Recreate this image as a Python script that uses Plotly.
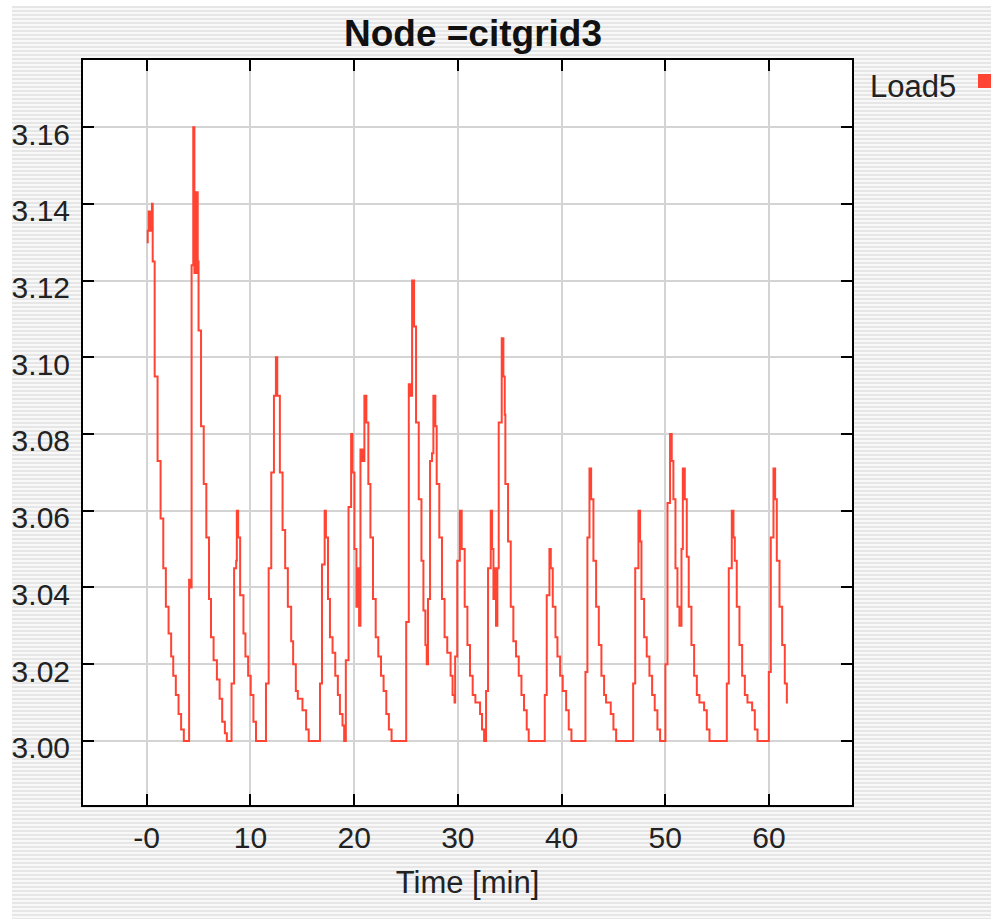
import plotly.graph_objects as go

# ---------------- data ----------------
TITLE = "Node =citgrid3"
SERIES_NAME = "Load5"
X_TITLE = "Time [min]"

time_min = [
    0.00, 0.10, 0.19, 0.38, 0.51, 0.58, 0.77, 1.05, 1.34, 1.60, 1.85, 2.11, 2.36, 2.56, 2.81, 3.07, 3.32, 3.58,
    4.09, 4.20, 4.33, 4.49, 4.60, 4.66, 4.75, 4.82, 4.92, 5.00, 5.24, 5.50, 5.75, 6.01, 6.20, 6.45, 6.77, 7.03,
    7.28, 7.54, 7.73,
    8.18, 8.43, 8.63, 8.69, 8.82, 9.01, 9.33, 9.52, 9.78, 10.03, 10.29, 10.54,
    11.50, 11.76, 12.01, 12.27, 12.46, 12.59, 12.84, 13.10, 13.35, 13.61, 13.93, 14.12, 14.38, 14.57, 15.02,
    15.37, 15.62,
    16.71, 16.90, 17.16, 17.28, 17.48, 17.67, 17.92, 18.18, 18.43, 18.63, 18.88, 19.04,
    19.20, 19.46, 19.71, 19.84, 20.03, 20.22, 20.35, 20.48, 20.61, 20.80, 20.99, 21.18, 21.37, 21.57, 21.82,
    22.08, 22.33, 22.59, 22.84, 23.10, 23.35, 23.61,
    25.02, 25.27, 25.46, 25.59, 25.78, 25.97, 26.23, 26.49, 26.68, 26.87, 27.00,
    27.12, 27.32, 27.51, 27.64, 27.83, 27.96, 28.21, 28.47, 28.72, 28.98, 29.30, 29.49, 29.68,
    29.74, 29.94, 30.19, 30.37, 30.66, 30.92, 31.17, 31.43, 31.69, 32.14, 32.33, 32.53,
    32.72, 32.91, 33.17, 33.30, 33.43, 33.55, 33.68, 33.81, 33.94, 34.23, 34.39, 34.52, 34.58, 34.84, 35.10,
    35.35, 35.61, 35.87, 36.13, 36.38, 36.64, 36.83,
    38.38, 38.57, 38.83, 38.96, 39.15, 39.41, 39.60, 39.86, 40.11, 40.44, 40.69, 40.95,
    42.30, 42.49, 42.69, 42.85, 43.07, 43.33, 43.59, 43.84, 44.10, 44.29, 44.74, 45.00, 45.26,
    46.90, 47.10, 47.41, 47.57, 47.70, 47.96, 48.21, 48.47, 48.73, 48.98, 49.24, 49.50,
    50.01, 50.21, 50.46, 50.62, 50.78, 50.98, 51.17, 51.36, 51.56, 51.69, 51.88, 52.07, 52.26, 52.52, 52.78,
    53.04, 53.29, 53.74, 54.00, 54.26,
    55.93, 56.12, 56.41, 56.57, 56.70, 56.89, 57.15, 57.41, 57.67, 57.92, 58.37, 58.63, 58.89,
    59.98, 60.17, 60.43, 60.59, 60.75, 61.01, 61.27, 61.52, 61.72, 61.82,
]

load5 = [
    3.130, 3.133, 3.138, 3.133, 3.140, 3.125, 3.095, 3.073, 3.058, 3.045, 3.035, 3.028, 3.022, 3.017, 3.012, 3.007, 3.003, 3.000,
    3.042, 3.040, 3.124, 3.160, 3.122, 3.143, 3.122, 3.143, 3.125, 3.107, 3.082, 3.067, 3.053, 3.037, 3.027, 3.021, 3.016, 3.011,
    3.005, 3.002, 3.000,
    3.015, 3.045, 3.047, 3.060, 3.053, 3.038, 3.028, 3.022, 3.017, 3.012, 3.005, 3.000,
    3.015, 3.045, 3.070, 3.090, 3.100, 3.090, 3.070, 3.055, 3.045, 3.035, 3.026, 3.020, 3.013, 3.011, 3.008,
    3.003, 3.000,
    3.015, 3.046, 3.060, 3.053, 3.037, 3.027, 3.023, 3.017, 3.012, 3.007, 3.004, 3.000,
    3.021, 3.061, 3.080, 3.070, 3.050, 3.035, 3.045, 3.030, 3.076, 3.073, 3.090, 3.083, 3.067, 3.053, 3.037,
    3.027, 3.022, 3.017, 3.013, 3.007, 3.003, 3.000,
    3.031, 3.093, 3.090, 3.120, 3.108, 3.083, 3.063, 3.047, 3.034, 3.025, 3.020,
    3.037, 3.073, 3.075, 3.090, 3.082, 3.067, 3.053, 3.037, 3.027, 3.023, 3.017, 3.012, 3.010,
    3.022, 3.047, 3.060, 3.050, 3.035, 3.025, 3.017, 3.012, 3.010, 3.007, 3.003, 3.000,
    3.013, 3.045, 3.060, 3.050, 3.037, 3.045, 3.030, 3.045, 3.083, 3.105, 3.095, 3.085, 3.067, 3.052, 3.035,
    3.026, 3.022, 3.017, 3.012, 3.008, 3.003, 3.000,
    3.012, 3.038, 3.050, 3.045, 3.035, 3.027, 3.022, 3.017, 3.013, 3.008, 3.003, 3.000,
    3.018, 3.053, 3.071, 3.063, 3.047, 3.035, 3.025, 3.017, 3.012, 3.010, 3.007, 3.003, 3.000,
    3.015, 3.045, 3.060, 3.052, 3.037, 3.027, 3.022, 3.017, 3.012, 3.008, 3.003, 3.000,
    3.020, 3.062, 3.080, 3.073, 3.063, 3.045, 3.035, 3.030, 3.050, 3.071, 3.063, 3.048, 3.035, 3.025, 3.017,
    3.012, 3.010, 3.008, 3.003, 3.000,
    3.015, 3.045, 3.060, 3.053, 3.047, 3.035, 3.025, 3.017, 3.012, 3.010, 3.008, 3.003, 3.000,
    3.018, 3.053, 3.071, 3.063, 3.047, 3.035, 3.025, 3.015, 3.010, 3.010,
]

x_tickvals = [0, 10, 20, 30, 40, 50, 60]
x_ticktext = ["-0", "10", "20", "30", "40", "50", "60"]
y_tickvals = [3.00, 3.02, 3.04, 3.06, 3.08, 3.10, 3.12, 3.14, 3.16]
y_ticktext = ["3.00", "3.02", "3.04", "3.06", "3.08", "3.10", "3.12", "3.14", "3.16"]

x_range = [-6.14, 68.0]
y_range = [2.9833, 3.1775]

# ---------------- style ----------------
W, H = 991, 919
ML, MR, MT, MB = 83, 139, 60, 114
PW, PH = W - ML - MR, H - MT - MB
FONT = "Liberation Sans, Arial, Helvetica, sans-serif"
RED = "#ff4433"
TXT = "#222222"


def px_x(px):
    return (px - ML) / PW


def px_y(py):
    return (H - MB - py) / PH


fig = go.Figure()
fig.add_trace(go.Scatter(
    x=time_min, y=load5, mode="lines", name=SERIES_NAME,
    line=dict(color=RED, width=2, shape="hv"), showlegend=False,
))
# empty trace so that the label axis (y2) is created
fig.add_trace(go.Scatter(x=[], y=[], yaxis="y2", showlegend=False, hoverinfo="skip"))

axis_common = dict(
    showline=True, linecolor="black", linewidth=2, mirror="ticks",
    ticks="inside", ticklen=11, tickwidth=2, tickcolor="black",
    showgrid=True, gridcolor="#d4d4d4", gridwidth=2, zeroline=False,
    tickfont=dict(family=FONT, size=30, color=TXT),
)

# pinstripe background
segs = []
for py in range(6, H, 4):
    y0, y1 = px_y(py), px_y(py + 2)
    xa, xb = px_x(0), px_x(W)
    segs.append(f"M{xa},{y0} L{xb},{y0} L{xb},{y1} L{xa},{y1} Z")
shapes = [
    dict(type="path", path=" ".join(segs), xref="paper", yref="paper",
         fillcolor="#e6e6e6", line=dict(width=0), layer="below"),
    dict(type="rect", xref="paper", yref="paper", x0=0, x1=1, y0=0, y1=1,
         fillcolor="white", line=dict(width=0), layer="below"),
    # white outer border (left and top)
    dict(type="rect", xref="paper", yref="paper", x0=px_x(0), x1=px_x(12), y0=px_y(H), y1=px_y(0),
         fillcolor="white", line=dict(width=0), layer="above"),
    dict(type="rect", xref="paper", yref="paper", x0=px_x(0), x1=px_x(W), y0=px_y(6), y1=px_y(0),
         fillcolor="white", line=dict(width=0), layer="above"),
    # legend swatch
    dict(type="rect", xref="paper", yref="paper", x0=px_x(978), x1=px_x(992), y0=px_y(88), y1=px_y(74),
         fillcolor=RED, line=dict(width=0), layer="above"),
]

fig.update_layout(
    width=W, height=H, autosize=False,
    margin=dict(l=ML, r=MR, t=MT, b=MB, pad=0),
    paper_bgcolor="#f8f8f8", plot_bgcolor="white",
    font=dict(family=FONT, color=TXT),
    title=dict(text="<b>" + TITLE + "</b>", font=dict(family=FONT, size=37, color="#111111"),
               x=473 / W, xref="container", xanchor="center",
               y=1 - 33 / H, yref="container", yanchor="middle"),
    xaxis=dict(range=x_range, tickvals=x_tickvals, ticktext=x_ticktext, ticklabelstandoff=5,
               title=dict(text=X_TITLE, font=dict(family=FONT, size=31, color=TXT), standoff=18),
               **axis_common),
    yaxis=dict(range=y_range, tickvals=y_tickvals, showticklabels=False, **axis_common),
    yaxis2=dict(range=[y_range[0] + 0.0018, y_range[1] + 0.0018], overlaying="y", side="left",
                anchor="x", tickvals=y_tickvals, ticktext=y_ticktext, showgrid=False,
                showline=False, ticks="", zeroline=False, ticklabelstandoff=12,
                tickfont=dict(family=FONT, size=30, color=TXT)),
    shapes=shapes,
    annotations=[dict(text=SERIES_NAME, xref="paper", yref="paper", x=px_x(868), y=px_y(86),
                      xanchor="left", yanchor="middle", showarrow=False,
                      font=dict(family=FONT, size=31, color=TXT))],
    showlegend=False,
)

fig.write_html("out.html")
